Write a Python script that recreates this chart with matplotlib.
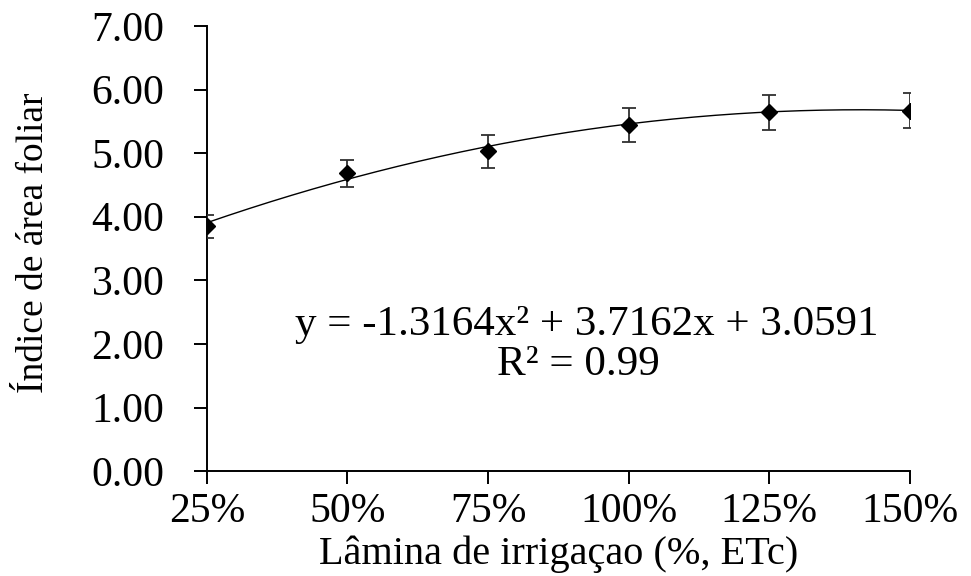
import numpy as np
import matplotlib.pyplot as plt

# irrigation depth (% ETc) as fraction, leaf area index means and error bars
lamina = [0.25, 0.50, 0.75, 1.00, 1.25, 1.50]
tick_labels = ['25%', '50%', '75%', '100%', '125%', '150%']
iaf = [3.85, 4.68, 5.03, 5.44, 5.64, 5.67]
erro = [0.18, 0.21, 0.26, 0.27, 0.27, 0.28]

# quadratic trendline coefficients (as printed on the chart)
coef = [-1.3164, 3.7162, 3.0591]

plt.rcParams['font.family'] = ['Liberation Serif', 'DejaVu Serif']

fig = plt.figure(figsize=(9.71, 5.76), dpi=100)
ax = fig.add_axes([0.213, 0.182, 0.724, 0.773])

xs = np.linspace(lamina[0], lamina[-1], 200)
ax.plot(xs, np.polyval(coef, xs), color='black', lw=1.0, zorder=2)
ax.errorbar(lamina, iaf, yerr=erro, fmt='D', color='black', ms=8,
            ecolor='#303030', elinewidth=1.3, capsize=5, capthick=1.3, zorder=3)

ax.set_xlim(0.25, 1.5)
ax.set_ylim(0, 7)
ax.set_xticks(lamina)
ax.set_xticklabels(tick_labels)
ax.set_yticks(np.arange(0, 8, 1))
ax.set_yticklabels([f'{v:.2f}' for v in range(8)])

for s in ['top', 'right']:
    ax.spines[s].set_visible(False)
for s in ['left', 'bottom']:
    ax.spines[s].set_linewidth(1.4)
ax.tick_params(direction='out', length=9.5, width=1.4, labelsize=30)
ax.tick_params(axis='x', pad=6)
ax.tick_params(axis='y', pad=21)

ax.set_xlabel('Lâmina de irrigaçao (%, ETc)', fontsize=29, va='baseline')
ax.xaxis.set_label_coords(0.5, -0.208)
ax.set_ylabel('Índice de área foliar', fontsize=27, va='center')
ax.yaxis.set_label_coords(-0.246, 0.512)

ax.text(0.926, 2.14, 'y = -1.3164x² + 3.7162x + 3.0591', fontsize=31,
        ha='center', va='baseline')
ax.text(0.911, 1.51, 'R² = 0.99', fontsize=31, ha='center', va='baseline')

fig.savefig('out.png', dpi=100)
